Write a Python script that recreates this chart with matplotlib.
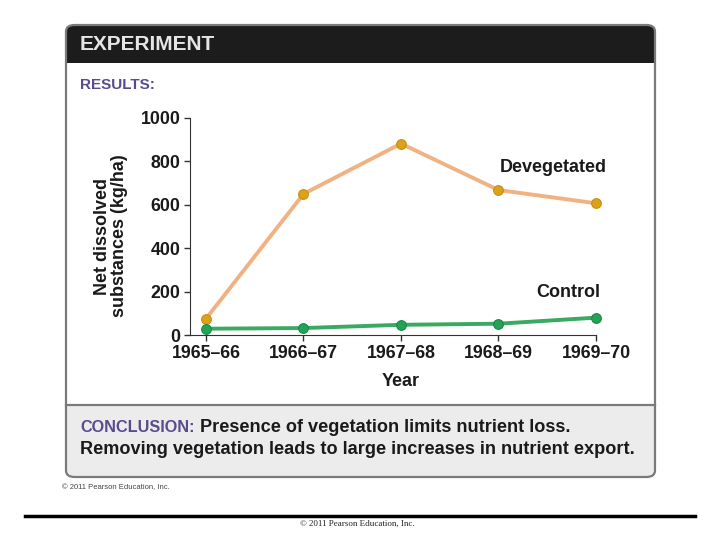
import matplotlib
matplotlib.use("Agg")
import matplotlib.pyplot as plt
from matplotlib.patches import FancyBboxPatch, Rectangle
from matplotlib.lines import Line2D

years = ["1965–66", "1966–67", "1967–68", "1968–69", "1969–70"]
devegetated = [75, 650, 882, 668, 607]
control = [29, 32, 47, 52, 80]
y_ticks = [0, 200, 400, 600, 800, 1000]

W, H = 720, 540
plt.rcParams["font.family"] = ["Liberation Sans", "DejaVu Sans"]

fig = plt.figure(figsize=(7.2, 5.4), dpi=100)


def fx(px):
    return px / W


def fy(py):
    return 1 - py / H


def card_box(**kw):
    return FancyBboxPatch((fx(66), fy(477)), fx(589), (477 - 25) / H,
                          boxstyle="round,pad=0,rounding_size=0.012",
                          transform=fig.transFigure, **kw)


# card with rounded corners, grey conclusion panel
fig.patches.append(card_box(facecolor="#ececec", edgecolor="none", zorder=-5))
fig.patches.append(FancyBboxPatch((fx(66), fy(90)), fx(589), (90 - 25) / H,
                                  boxstyle="round,pad=0,rounding_size=0.012",
                                  transform=fig.transFigure,
                                  facecolor="#1c1c1c", edgecolor="none",
                                  zorder=-4))
fig.patches.append(Rectangle((fx(65), fy(404)), fx(591), (404 - 63) / H,
                             transform=fig.transFigure, facecolor="white",
                             edgecolor="none", zorder=-3))
fig.patches.append(card_box(facecolor="none", edgecolor="#7a7a7a",
                            linewidth=1.6, zorder=-2))
fig.lines.append(Line2D([fx(66), fx(655)], [fy(405), fy(405)],
                        transform=fig.transFigure, color="#7a7a7a", lw=1.6,
                        zorder=-2))

fig.text(fx(80), fy(44), "EXPERIMENT", color="#e6e6e6", fontsize=15,
         fontweight="bold", va="center", ha="left")
fig.text(fx(80), fy(85), "RESULTS:", color="#5b4b8c", fontsize=11,
         fontweight="bold", va="center", ha="left")

# plot area
ax = fig.add_axes([fx(190), fy(335), fx(596 - 190), (335 - 118) / H])
ax.set_zorder(5)
ax.patch.set_alpha(0)
x = list(range(len(years)))
ax.plot(x, devegetated, color="#f0b283", lw=2.8, zorder=2, clip_on=False)
ax.plot(x, devegetated, "o", ms=7, color="#dca21c", mec="#c98f12",
        mew=0.8, zorder=3, clip_on=False)
ax.plot(x, control, color="#3aa962", lw=2.8, zorder=2, clip_on=False)
ax.plot(x, control, "o", ms=7, color="#23a356", mec="#1b8a46",
        mew=0.8, zorder=3, clip_on=False)

ax.set_xlim(-0.164, 4)
ax.set_ylim(0, 1000)
ax.set_xticks(x)
ax.set_xticklabels(years)
ax.set_yticks(y_ticks)
for s in ["top", "right"]:
    ax.spines[s].set_visible(False)
ax.spines["left"].set_color("#333333")
ax.spines["bottom"].set_color("#333333")
ax.tick_params(axis="both", direction="out", length=4, width=1,
               color="#333333", labelsize=12.8, pad=3, labelcolor="#1a1a1a")
for lbl in ax.get_xticklabels() + ax.get_yticklabels():
    lbl.set_fontweight("bold")

ax.text(3.56, 770, "Devegetated", fontsize=13, fontweight="bold",
        ha="center", va="center", color="#1a1a1a")
ax.text(3.72, 198, "Control", fontsize=13, fontweight="bold",
        ha="center", va="center", color="#1a1a1a")

fig.text(fx(111), fy(236), "Net dissolved\nsubstances (kg/ha)", rotation=90,
         fontsize=13, fontweight="bold", ha="center", va="center",
         linespacing=1.0, color="#1a1a1a")
fig.text(fx(401), fy(382), "Year", fontsize=13, fontweight="bold",
         ha="center", va="center", color="#1a1a1a")

# conclusion
concl = fig.text(fx(80), fy(427), "CONCLUSION:", color="#5b4b8c",
                 fontsize=11.7, fontweight="bold", va="center", ha="left")
plt.annotate("Presence of vegetation limits nutrient loss.",
             xy=(1, 0.5), xycoords=concl, xytext=(6, 0),
             textcoords="offset pixels", color="#1a1a1a", fontsize=13.1,
             fontweight="bold", va="center", ha="left",
             annotation_clip=False)
fig.text(fx(80), fy(450),
         "Removing vegetation leads to large increases in nutrient export.",
         color="#1a1a1a", fontsize=13.1, fontweight="bold", va="center",
         ha="left")

fig.text(fx(62), fy(488), "© 2011 Pearson Education, Inc.", fontsize=5.5,
         color="#444444", va="center", ha="left")

fig.lines.append(Line2D([fx(25), fx(695)], [fy(516), fy(516)],
                        transform=fig.transFigure, color="black", lw=2.5))
fig.text(fx(357), fy(524), "© 2011 Pearson Education, Inc.", fontsize=6.5,
         family="Liberation Serif", color="#222222", va="center",
         ha="center")

fig.savefig("out.png", dpi=100)
